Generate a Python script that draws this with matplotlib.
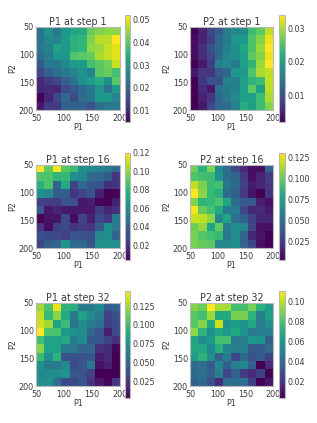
import matplotlib
matplotlib.use("Agg")
import matplotlib.pyplot as plt
import numpy as np

W = 317.0
H = 423.0

# values x 1000, rows run from P2=50 down to P2=200
p1_step1 = [
    [23, 29, 24, 30, 33, 34, 41, 43, 44, 44],
    [23, 27, 26, 30, 35, 36, 43, 47, 47, 52],
    [24, 26, 32, 30, 35, 36, 44, 45, 48, 50],
    [22, 25, 30, 30, 39, 40, 41, 46, 48, 50],
    [18, 24, 24, 27, 31, 31, 38, 40, 42, 48],
    [15, 20, 22, 24, 26, 29, 26, 40, 41, 38],
    [10, 13, 15, 19, 23, 29, 31, 34, 29, 40],
    [10, 11, 10, 16, 18, 21, 24, 30, 23, 30],
    [5, 10, 15, 21, 16, 21, 23, 30, 30, 26],
    [8, 13, 13, 20, 20, 20, 17, 22, 24, 24],
]
p2_step1 = [
    [2, 5, 9, 11, 15, 17, 17, 24, 26, 31],
    [3, 5, 8, 13, 15, 19, 19, 25, 28, 33],
    [3, 6, 10, 13, 16, 18, 21, 25, 29, 34],
    [3, 6, 9, 13, 17, 18, 20, 26, 28, 33],
    [2, 4, 8, 16, 17, 15, 20, 23, 29, 34],
    [4, 7, 7, 11, 13, 19, 19, 25, 30, 31],
    [2, 7, 10, 10, 16, 16, 20, 23, 24, 31],
    [2, 6, 4, 14, 15, 16, 20, 26, 20, 31],
    [2, 5, 7, 13, 15, 17, 20, 20, 24, 30],
    [2, 4, 9, 13, 13, 16, 22, 20, 24, 28],
]
p1_step16 = [
    [120, 92, 118, 90, 82, 62, 60, 55, 52, 45],
    [88, 88, 80, 82, 62, 58, 44, 44, 38, 22],
    [78, 88, 42, 75, 28, 44, 36, 34, 20, 22],
    [62, 58, 38, 38, 22, 28, 34, 14, 4, 5],
    [26, 25, 25, 33, 32, 12, 14, 5, 5, 14],
    [36, 12, 16, 12, 12, 12, 12, 24, 16, 20],
    [4, 10, 10, 30, 8, 28, 14, 30, 24, 52],
    [22, 8, 26, 30, 22, 24, 22, 38, 62, 50],
    [32, 30, 30, 26, 34, 34, 32, 58, 62, 42],
    [28, 38, 42, 64, 44, 44, 34, 62, 62, 62],
]
p2_step16 = [
    [103, 85, 105, 65, 50, 30, 18, 8, 8, 45],
    [95, 92, 90, 68, 48, 44, 24, 8, 16, 26],
    [118, 105, 90, 92, 54, 46, 28, 12, 16, 24],
    [130, 108, 88, 82, 48, 42, 24, 10, 3, 22],
    [105, 86, 88, 95, 78, 48, 40, 38, 14, 8],
    [128, 100, 92, 80, 56, 56, 30, 16, 18, 12],
    [120, 118, 108, 62, 78, 50, 44, 28, 16, 16],
    [102, 110, 78, 100, 56, 66, 62, 30, 8, 8],
    [104, 96, 92, 88, 54, 66, 44, 16, 10, 3],
    [104, 100, 98, 62, 62, 66, 44, 30, 8, 3],
]
p1_step32 = [
    [125, 105, 140, 95, 92, 62, 60, 70, 45, 48],
    [132, 100, 120, 90, 60, 85, 70, 60, 32, 38],
    [135, 125, 85, 100, 58, 72, 60, 55, 30, 35],
    [145, 105, 105, 80, 75, 72, 50, 40, 15, 35],
    [102, 85, 85, 90, 62, 72, 42, 40, 32, 22],
    [120, 85, 85, 62, 60, 50, 50, 22, 20, 5],
    [100, 75, 95, 40, 38, 38, 42, 15, 20, 3],
    [75, 62, 62, 70, 35, 42, 60, 10, 16, 3],
    [70, 72, 72, 75, 42, 40, 30, 3, 3, 3],
    [75, 75, 55, 35, 35, 40, 25, 12, 5, 25],
]
p2_step32 = [
    [90, 86, 110, 96, 95, 78, 78, 88, 72, 62],
    [82, 78, 94, 68, 68, 88, 88, 72, 48, 64],
    [82, 90, 68, 102, 58, 62, 58, 68, 48, 56],
    [92, 72, 56, 66, 60, 68, 58, 46, 48, 50],
    [66, 56, 62, 78, 78, 46, 48, 60, 58, 36],
    [68, 68, 54, 70, 52, 50, 50, 34, 34, 40],
    [62, 72, 56, 36, 48, 26, 40, 30, 34, 24],
    [40, 42, 32, 52, 36, 50, 52, 36, 3, 16],
    [40, 42, 36, 48, 26, 36, 22, 16, 24, 3],
    [36, 40, 30, 16, 42, 42, 42, 24, 3, 10],
]

titles = ["P1 at step 1", "P2 at step 1", "P1 at step 16",
          "P2 at step 16", "P1 at step 32", "P2 at step 32"]
grids = [p1_step1, p2_step1, p1_step16, p2_step16, p1_step32, p2_step32]
cbar_ticks = [
    [0.01, 0.02, 0.03, 0.04, 0.05],
    [0.01, 0.02, 0.03],
    [0.02, 0.04, 0.06, 0.08, 0.10, 0.12],
    [0.025, 0.05, 0.075, 0.10, 0.125],
    [0.025, 0.05, 0.075, 0.10, 0.125],
    [0.02, 0.04, 0.06, 0.08, 0.10],
]
cbar_fmt = ["%.2f", "%.2f", "%.2f", "%.3f", "%.3f", "%.2f"]
ticks = [50, 100, 150, 200]

# pixel boxes of the panels
col_x = [(36, 120, 125, 130), (190, 273, 279, 285)]
row_y = [(27, 110, 15, 122), (165, 248, 153, 260), (303, 386, 291, 398)]

text_col = "#3a3a3a"
edge_col = "#b8b8b8"


def box(x0, x1, y0, y1):
    return [x0 / W, 1 - y1 / H, (x1 - x0) / W, (y1 - y0) / H]


fig = plt.figure(figsize=(W / 100, H / 100), dpi=100)

for i in range(6):
    xa, xb, xc, xd = col_x[i % 2]
    ya, yb, yc, yd = row_y[i // 2]
    ax = fig.add_axes(box(xa, xb, ya, yb))
    vals = np.array(grids[i]) / 1000.0
    im = ax.imshow(vals, cmap="viridis", extent=[50, 200, 200, 50],
                   interpolation="nearest", aspect="auto")
    ax.set_xticks(ticks)
    ax.set_yticks(ticks)
    ax.tick_params(length=0, labelsize=5.8, colors=text_col)
    # x labels sit a bit lower so the corner 50 clears the y axis 200
    ax.tick_params(axis="x", pad=3.2)
    ax.tick_params(axis="y", pad=1.5)
    ax.set_xlabel("P1", fontsize=5.8, color=text_col, labelpad=0)
    ax.set_ylabel("P2", fontsize=5.8, color=text_col, labelpad=1)
    ax.set_title(titles[i], fontsize=6.9, color=text_col, pad=1.5)
    for s in ax.spines.values():
        s.set_color(edge_col)
        s.set_linewidth(0.8)
    cax = fig.add_axes(box(xc, xd, yc, yd))
    cb = fig.colorbar(im, cax=cax, ticks=cbar_ticks[i], format=cbar_fmt[i])
    cb.ax.tick_params(length=0, labelsize=5.7, pad=1.5, colors=text_col)
    cb.outline.set_edgecolor(edge_col)
    cb.outline.set_linewidth(0.8)

fig.savefig("out.png", dpi=100)
